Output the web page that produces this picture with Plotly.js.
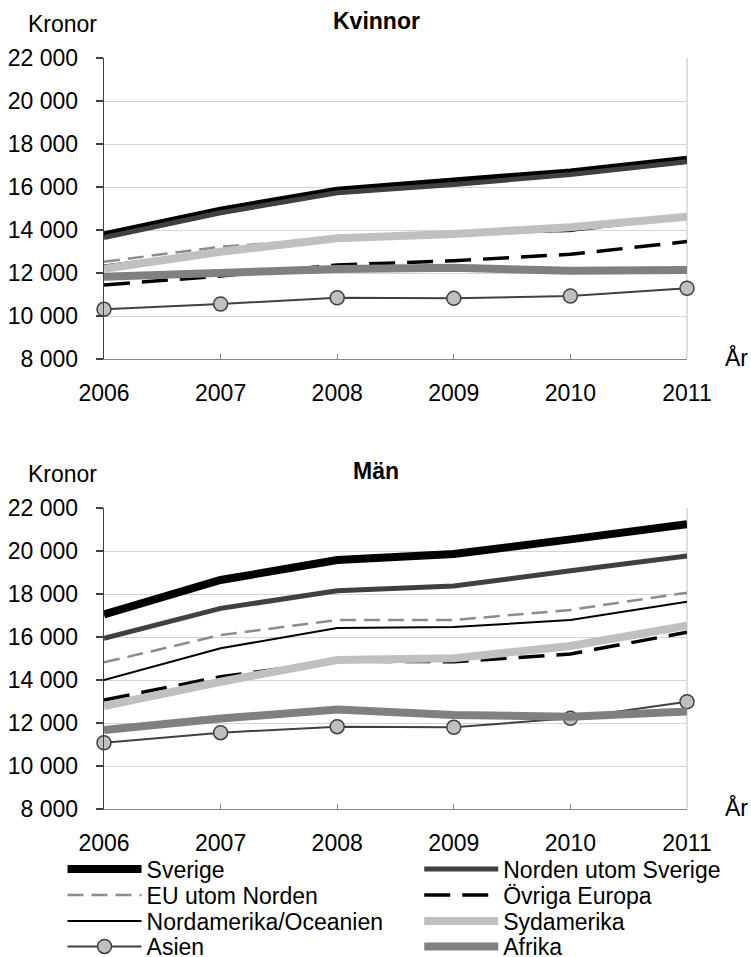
<!DOCTYPE html>
<html><head><meta charset="utf-8">
<script src="https://cdn.plot.ly/plotly-3.0.1.min.js"></script>
<style>html,body{margin:0;padding:0;background:#fff}</style>
</head><body>
<div id="chart" style="width:751px;height:957px"></div>
<script>
// ---- data ----
const years = [2006, 2007, 2008, 2009, 2010, 2011];
const seriesNames = ["Sverige", "Norden utom Sverige", "EU utom Norden", "Övriga Europa",
  "Nordamerika/Oceanien", "Sydamerika", "Asien", "Afrika"];
// Kvinnor (kronor)
const sverigeK  = [13750, 14900, 15830, 16220, 16680, 17270];
const nordenK   = [13650, 14800, 15730, 16120, 16580, 17180];
const euK       = [12525, 13220, 13600, 13850, 13950, 14600];
const ovrigaK   = [11440, 11860, 12370, 12570, 12870, 13460];
const nordamK   = [12350, 13050, 13550, 13800, 13950, 14600];
const sydamK    = [12200, 12990, 13615, 13815, 14125, 14620];
const asienK    = [10310, 10560, 10850, 10820, 10930, 11290];
const afrikaK   = [11830, 11985, 12185, 12245, 12105, 12140];
// Män (kronor)
const sverigeM  = [17050, 18650, 19580, 19860, 20540, 21250];
const nordenM   = [15940, 17330, 18150, 18370, 19080, 19770];
const euM       = [14820, 16090, 16790, 16790, 17260, 18060];
const ovrigaM   = [13070, 14150, 14880, 14850, 15210, 16220];
const nordamM   = [14000, 15475, 16420, 16465, 16790, 17645];
const sydamM    = [12790, 13920, 14930, 15010, 15580, 16530];
const asienM    = [11080, 11550, 11830, 11800, 12220, 12990];
const afrikaM   = [11670, 12210, 12630, 12370, 12290, 12530];
const yTicks = [8000, 10000, 12000, 14000, 16000, 18000, 20000, 22000];

const kvinnor = [sverigeK, nordenK, euK, ovrigaK, nordamK, sydamK, asienK, afrikaK];
const man = [sverigeM, nordenM, euM, ovrigaM, nordamM, sydamM, asienM, afrikaM];

// ---- styles ----
const styles = [
  {color: "#000000", width: 8},
  {color: "#404040", width: 5},
  {color: "#8c8c8c", width: 2.5, dash: "16px,8px"},
  {color: "#000000", width: 3.5, dash: "26px,12px"},
  {color: "#000000", width: 2},
  {color: "#c0c0c0", width: 8},
  {color: "#404040", width: 2, marker: true},
  {color: "#808080", width: 8}
];

const traces = [];
function addTraces(data, xa, ya, showLegend) {
  data.forEach((vals, i) => {
    const s = styles[i];
    const t = {
      type: "scatter", x: years, y: vals, name: seriesNames[i],
      xaxis: xa, yaxis: ya, cliponaxis: false,
      mode: s.marker ? "lines+markers" : "lines",
      line: {color: s.color, width: s.width, dash: s.dash || "solid"},
      showlegend: showLegend, hoverinfo: "skip",
      legend: i === 0 ? "legend" : "legend" + (i + 1)
    };
    if (s.marker) t.marker = {symbol: "circle", size: 14, color: "#c0c0c0", line: {color: "#404040", width: 1.5}};
    traces.push(t);
  });
}
addTraces(kvinnor, "x", "y", false);
addTraces(man, "x2", "y2", true);

// ---- layout helpers (pixel -> paper) ----
const L = 103.5, R = 687, T = 58, B = 809;
const px = p => (p - L) / (R - L);
const py = p => (B - p) / (B - T);
const FONT = "Liberation Sans, Arial, sans-serif";

function yAxis(domain, anchor) {
  return {
    domain: domain, anchor: anchor, range: [8000, 22000], tickvals: yTicks,
    tickformat: ",d", showgrid: true, gridcolor: "#d4d4d4", gridwidth: 1,
    showline: true, linecolor: "#404040", linewidth: 1.3,
    ticks: "outside", ticklen: 7, tickcolor: "#404040", tickwidth: 1.3,
    tickfont: {family: FONT, size: 23, color: "#000"}, ticklabelstandoff: 13,
    zeroline: false, fixedrange: true
  };
}
function xAxis(anchor) {
  return {
    anchor: anchor, range: [2006, 2011], tickvals: years, tickformat: "d",
    showgrid: false, showline: true, linecolor: "#868686", linewidth: 1.3,
    ticks: "inside", ticklen: 5, tickcolor: "#868686", tickwidth: 1.3,
    tickfont: {family: FONT, size: 23, color: "#000"}, ticklabelstandoff: 13,
    zeroline: false, fixedrange: true
  };
}

const topDom = [py(359), 1];
const botDom = [0, py(508)];

const layout = {
  width: 751, height: 957,
  margin: {l: L, r: 751 - R, t: T, b: 957 - B, autoexpand: false},
  paper_bgcolor: "#fff", plot_bgcolor: "#fff",
  separators: ", ",
  font: {family: FONT, size: 23, color: "#000"},
  xaxis: xAxis("y"), yaxis: yAxis(topDom, "x"),
  xaxis2: xAxis("y2"), yaxis2: yAxis(botDom, "x2"),
  annotations: [
    {text: "Kronor", xref: "paper", yref: "paper", x: px(61.5), y: py(24), showarrow: false, xanchor: "center", yanchor: "middle"},
    {text: "<b>Kvinnor</b>", xref: "paper", yref: "paper", x: px(376), y: py(21), showarrow: false, xanchor: "center", yanchor: "middle"},
    {text: "År", xref: "paper", yref: "paper", x: px(723), y: py(357), showarrow: false, xanchor: "left", yanchor: "middle"},
    {text: "Kronor", xref: "paper", yref: "paper", x: px(61.5), y: py(24 + 450), showarrow: false, xanchor: "center", yanchor: "middle"},
    {text: "<b>Män</b>", xref: "paper", yref: "paper", x: px(376), y: py(21 + 450), showarrow: false, xanchor: "center", yanchor: "middle"},
    {text: "År", xref: "paper", yref: "paper", x: px(723), y: py(357 + 450), showarrow: false, xanchor: "left", yanchor: "middle"}
  ],
  shapes: [
    {type: "line", xref: "x domain", yref: "y domain", x0: 1, x1: 1, y0: 0, y1: 1, line: {color: "#d4d4d4", width: 1.5}, layer: "below"},
    {type: "line", xref: "x2 domain", yref: "y2 domain", x0: 1, x1: 1, y0: 0, y1: 1, line: {color: "#d4d4d4", width: 1.5}, layer: "below"}
  ],
  showlegend: true
};

// legends: 4 rows x 2 columns
const colX = [62, 419];
const rowY = [869, 895, 921, 946.5];
seriesNames.forEach((n, i) => {
  const key = i === 0 ? "legend" : "legend" + (i + 1);
  layout[key] = {
    x: px(colX[i % 2]), y: py(rowY[Math.floor(i / 2)]), xref: "paper", yref: "paper",
    xanchor: "left", yanchor: "middle", orientation: "v",
    bgcolor: "rgba(0,0,0,0)", borderwidth: 0, itemwidth: 74,
    font: {family: FONT, size: 23, color: "#000"}, itemclick: false, itemdoubleclick: false
  };
});

Plotly.newPlot("chart", traces, layout, {staticPlot: true, displayModeBar: false});
</script>
</body></html>
